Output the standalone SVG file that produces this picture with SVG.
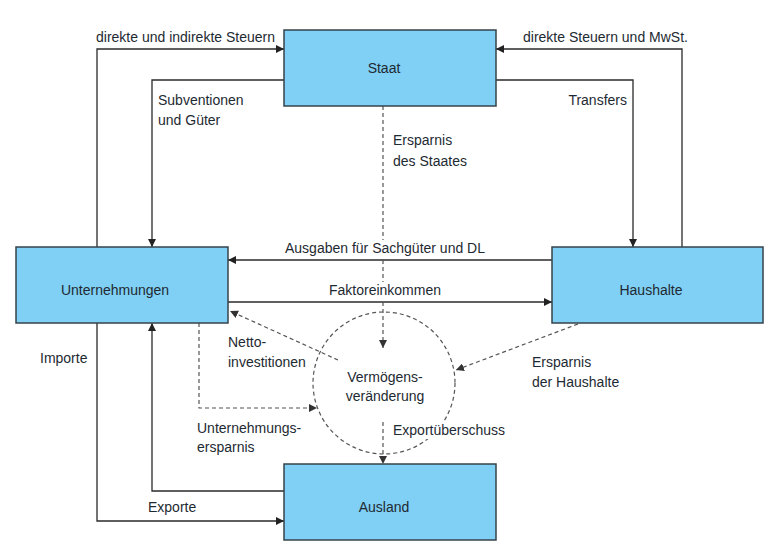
<svg xmlns="http://www.w3.org/2000/svg" width="784" height="548" viewBox="0 0 784 548">
<defs>
<marker id="a" viewBox="0 0 10 10" refX="10" refY="5" markerWidth="8" markerHeight="8" markerUnits="userSpaceOnUse" orient="auto"><path d="M0,0 L10,5 L0,10 z" fill="#222"/></marker>
<marker id="ad" viewBox="0 0 10 10" refX="10" refY="5" markerWidth="8" markerHeight="8" markerUnits="userSpaceOnUse" orient="auto"><path d="M0,0 L10,5 L0,10 z" fill="#333"/></marker>
</defs>
<style>
.box{fill:#80cff4;stroke:#36434c;stroke-width:1.5}
.t{font-family:"Liberation Sans",Arial,sans-serif;font-size:14px;fill:#1e2a32}
.h{stroke:#fff;stroke-width:5px;stroke-linejoin:round;paint-order:stroke}
.c{text-anchor:middle}
.bg{fill:#fff}
.ln{fill:none;stroke:#2a2a2a;stroke-width:1.3;marker-end:url(#a)}
.dl{fill:none;stroke:#555;stroke-width:1.2;stroke-dasharray:4 3;marker-end:url(#ad)}
.circ{fill:none;stroke:#555;stroke-width:1.2;stroke-dasharray:4 3}
</style>
<rect width="784" height="548" fill="#fff"/>
<g id="vermoegen"><circle class="circ" cx="384" cy="383" r="71"/><text class="t c" x="385" y="382">Vermögens-</text><text class="t c" x="385" y="401">veränderung</text></g>
<g id="connectors">
<path class="ln" d="M97,247 V49 H284"/>
<path class="ln" d="M284,80 H152 V247"/>
<path class="ln" d="M682,247 V49 H496"/>
<path class="ln" d="M496,80 H633 V247"/>
<path class="ln" d="M552,260 H228"/>
<path class="ln" d="M228,302 H552"/>
<path class="ln" d="M97,323 V521 H284"/>
<path class="ln" d="M284,491 H152 V323"/>
<path class="dl" d="M383,106 V348"/>
<path class="dl" d="M383,422 V464"/>
<path class="dl" d="M338,360 L230,311"/>
<path class="dl" d="M199,323 V408 H317"/>
<path class="dl" d="M578,324 L456,370"/>
<rect class="bg" x="284" y="240" width="202" height="17"/>
<rect class="bg" x="327" y="282" width="116" height="17"/>
<rect class="bg" x="391" y="422" width="116" height="17"/>
<text class="t h" x="96" y="42">direkte und indirekte Steuern</text>
<text class="t h" x="158" y="105">Subventionen</text>
<text class="t h" x="158" y="125">und Güter</text>
<text class="t h" x="523" y="42">direkte Steuern und MwSt.</text>
<text class="t h" x="627" y="105" text-anchor="end">Transfers</text>
<text class="t h" x="393" y="145">Ersparnis</text>
<text class="t h" x="393" y="166">des Staates</text>
<text class="t h" x="385" y="253" text-anchor="middle">Ausgaben für Sachgüter und DL</text>
<text class="t h" x="385" y="295" text-anchor="middle">Faktoreinkommen</text>
<text class="t h" x="40" y="363">Importe</text>
<text class="t" x="228" y="347">Netto-</text>
<text class="t" x="228" y="367">investitionen</text>
<text class="t h" x="197" y="433">Unternehmungs-</text>
<text class="t h" x="197" y="452">ersparnis</text>
<text class="t h" x="148" y="512">Exporte</text>
<text class="t h" x="393" y="435">Exportüberschuss</text>
<text class="t h" x="532" y="367">Ersparnis</text>
<text class="t h" x="532" y="387">der Haushalte</text>
</g>
<g id="staat"><rect class="box" x="284" y="30" width="212" height="76"/><text class="t c" x="384" y="73">Staat</text></g>
<g id="unternehmungen"><rect class="box" x="16" y="247" width="212" height="76"/><text class="t c" x="115" y="295">Unternehmungen</text></g>
<g id="haushalte"><rect class="box" x="552" y="247" width="211" height="76"/><text class="t c" x="651" y="295">Haushalte</text></g>
<g id="ausland"><rect class="box" x="284" y="464" width="212" height="76"/><text class="t c" x="384" y="512">Ausland</text></g>
</svg>
